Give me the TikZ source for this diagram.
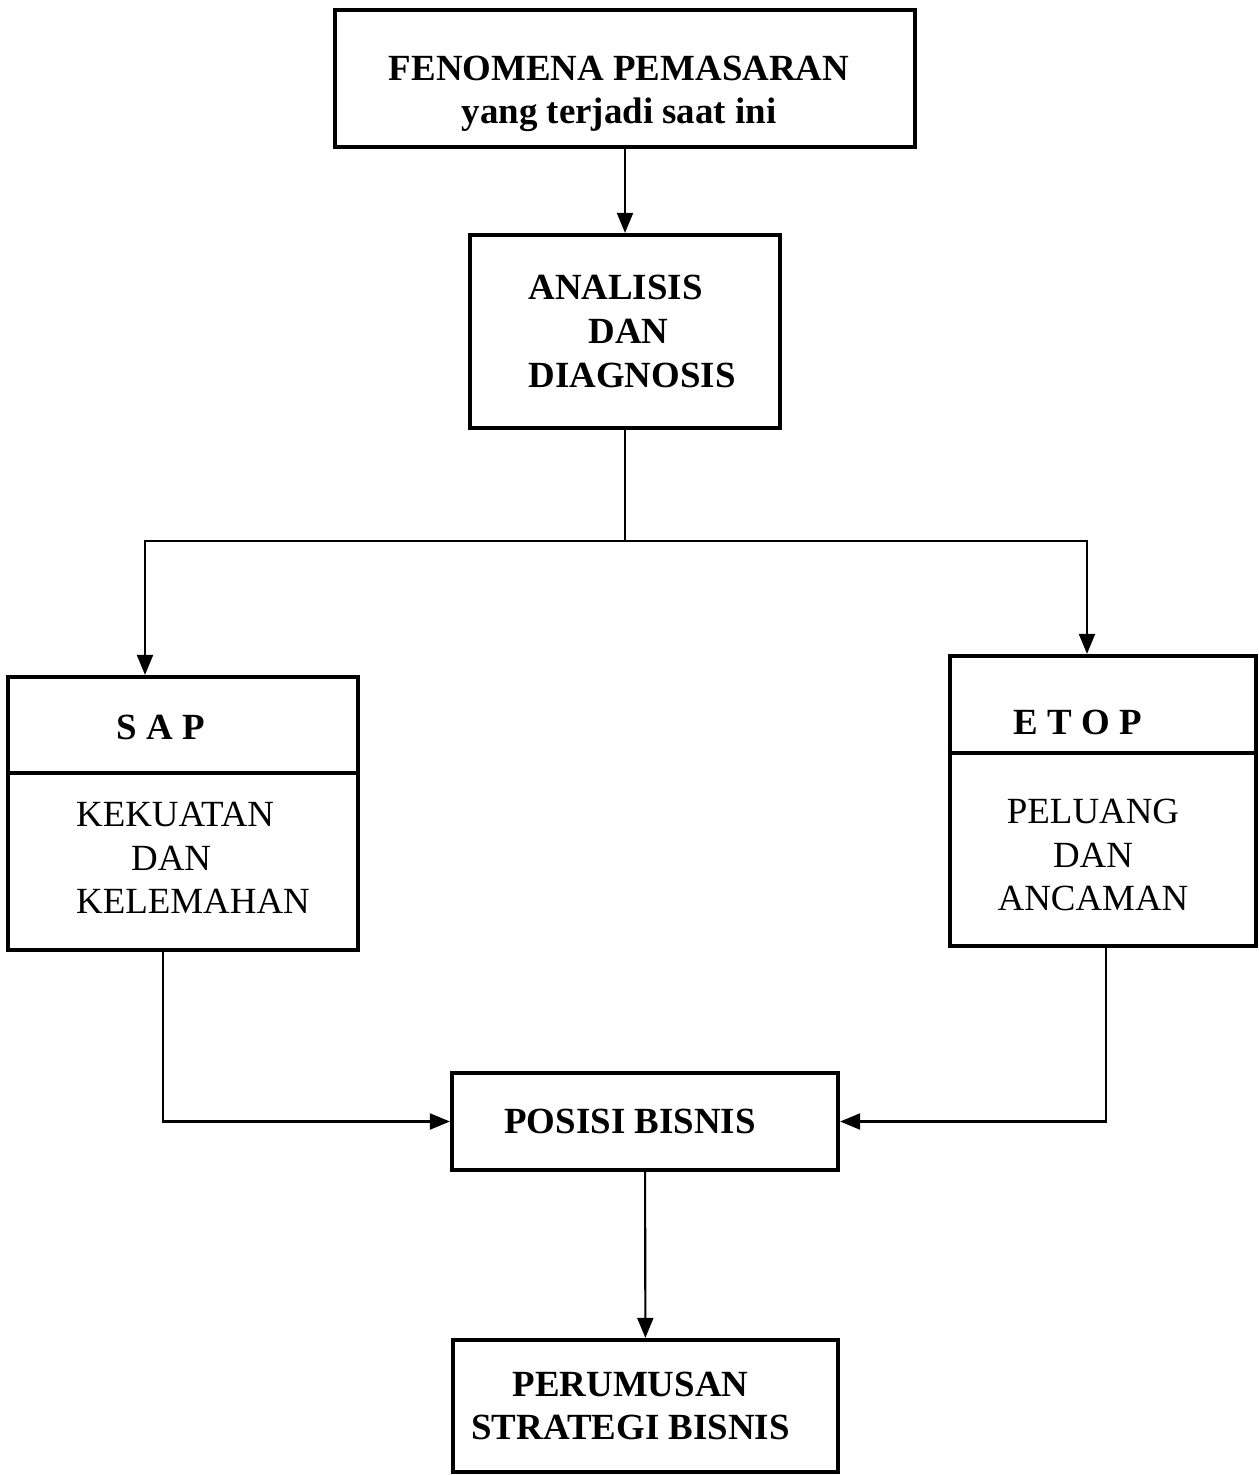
\documentclass[tikz,border=0pt]{standalone}
\usepackage{fontspec}
\setmainfont{Liberation Serif}
\usetikzlibrary{arrows.meta,positioning}

\begin{document}
\begin{tikzpicture}[line width=0.6pt,
    every node/.style={font=\fontsize{10.5}{12.4}\selectfont},
    boldtext/.style={font=\fontsize{10.5}{12.4}\selectfont\bfseries},
    box/.style={draw, line width=1.2pt, inner sep=0pt},
    arrow/.style={-{Triangle[width=1.6mm,length=2mm]}}]
  \useasboundingbox (0,0) rectangle (12.59,-14.75);

  % main column
  \node[box, minimum width=5.8cm, minimum height=1.37cm] (fenomena) at (6.25,-0.785) {};
  \node[boldtext, align=center] (fenomenatext) at (6.19,-0.94) {FENOMENA PEMASARAN\\yang terjadi saat ini};
  \node[box, boldtext, align=left, minimum width=3.1cm, minimum height=1.93cm] (analisis) at (6.25,-3.315)
    {\hspace*{0.14cm}ANALISIS\\\hspace*{0.74cm}DAN\\\hspace*{0.14cm}DIAGNOSIS};
  \node[box, boldtext, minimum width=3.86cm, minimum height=0.97cm] (posisi) at (6.45,-11.215)
    {POSISI BISNIS\hspace*{0.3cm}};
  \node[box, boldtext, align=center, minimum width=3.85cm, minimum height=1.32cm] (perumusan) at (6.455,-14.06)
    {PERUMUSAN\hspace*{0.3cm}\\STRATEGI BISNIS\hspace*{0.3cm}};

  % SAP and ETOP
  \node[box, minimum width=3.5cm, minimum height=2.73cm] (sap) at (1.83,-8.135) {};
  \draw[line width=1.2pt] (sap.west |- 0,-7.73) -- (sap.east |- 0,-7.73);
  \node[boldtext] (saptitle) at (1.61,-7.27) {S A P};
  \node[align=left] (sapbody) at (1.93,-8.58) {KEKUATAN\\\hspace*{0.55cm}DAN\\KELEMAHAN};

  \node[box, minimum width=3.06cm, minimum height=2.9cm] (etop) at (11.03,-8.01) {};
  \draw[line width=1.2pt] (etop.west |- 0,-7.53) -- (etop.east |- 0,-7.53);
  \node[boldtext] (etoptitle) at (10.78,-7.22) {E T O P};
  \node[align=center] (etopbody) at (10.93,-8.55) {PELUANG\\DAN\\ANCAMAN};

  % connectors
  \coordinate (split) at (6.25,-5.41);
  \draw[arrow] (fenomena) -- (analisis);
  \draw (analisis.south) -- (split);
  \draw[arrow] (split) -| ([xshift=-3.8mm]sap.north);
  \draw[arrow] (split) -| ([xshift=-1.6mm]etop.north);
  \draw[arrow] ([xshift=-2mm]sap.south) |- (posisi.west);
  \draw[arrow] ([xshift=0.3mm]etop.south) |- (posisi.east);
  \draw[arrow] (posisi) -- (perumusan);
\end{tikzpicture}
\end{document}
